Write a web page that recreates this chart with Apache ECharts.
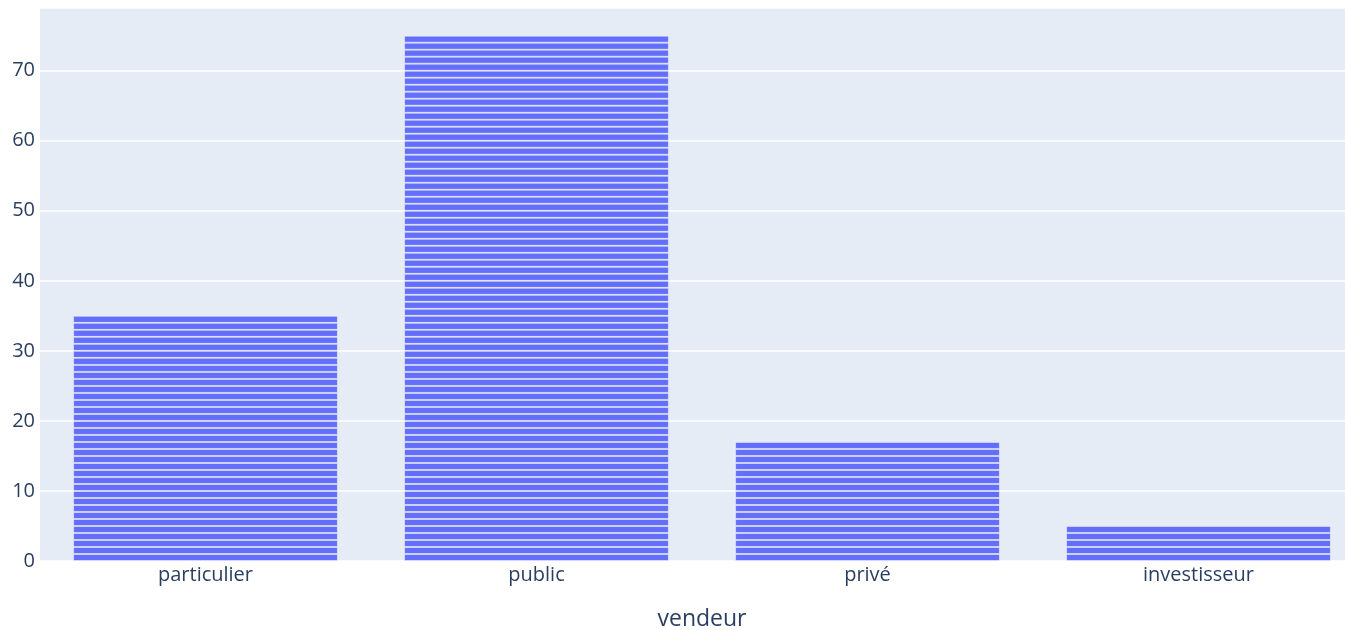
<!DOCTYPE html>
<html>
<head>
<meta charset="utf-8">
<script src="https://cdn.jsdelivr.net/npm/echarts@6/dist/echarts.min.js"></script>
<style>html,body{margin:0;padding:0;background:#fff}#c{width:1345px;height:630px}</style>
</head>
<body>
<div id="c"></div>
<script>
const categories = ['particulier', 'public', 'privé', 'investisseur'];
const counts = [35, 75, 17, 5];
const yTicks = [0, 10, 20, 30, 40, 50, 60, 70];
const xTitle = 'vendeur';

const chart = echarts.init(document.getElementById('c'));
const maxCount = Math.max(...counts);
const series = [];
for (let i = 1; i <= maxCount; i++) {
  series.push({
    type: 'bar',
    stack: 'total',
    barWidth: '80%',
    silent: true,
    data: counts.map(c => (c >= i ? 1 : '-')),
    itemStyle: { color: '#636efa', borderColor: 'rgba(255,255,255,0.45)', borderWidth: 1 }
  });
}
const font = '"Open Sans", sans-serif';
chart.setOption({
  animation: false,
  textStyle: { fontFamily: font },
  grid: { left: 40, right: -19, top: 8, bottom: 69, show: true, backgroundColor: '#e5ecf6', borderWidth: 0, outerBoundsMode: 'none', containLabel: false },
  xAxis: {
    type: 'category',
    data: categories,
    name: xTitle,
    nameLocation: 'middle',
    nameGap: 47,
    nameTextStyle: { color: '#2a3f5f', fontSize: 23, fontFamily: font },
    axisLine: { show: false },
    axisTick: { show: false },
    axisLabel: { color: '#2a3f5f', fontSize: 20, margin: 4, fontFamily: font }
  },
  yAxis: {
    type: 'value',
    min: yTicks[0],
    max: 78.95,
    interval: 10,
    axisLine: { show: false },
    axisTick: { show: false },
    axisLabel: { color: '#2a3f5f', fontSize: 20, margin: 5, showMaxLabel: false, fontFamily: font },
    splitLine: { lineStyle: { color: '#ffffff', width: 1.5 } }
  },
  series: series
});
</script>
</body>
</html>
